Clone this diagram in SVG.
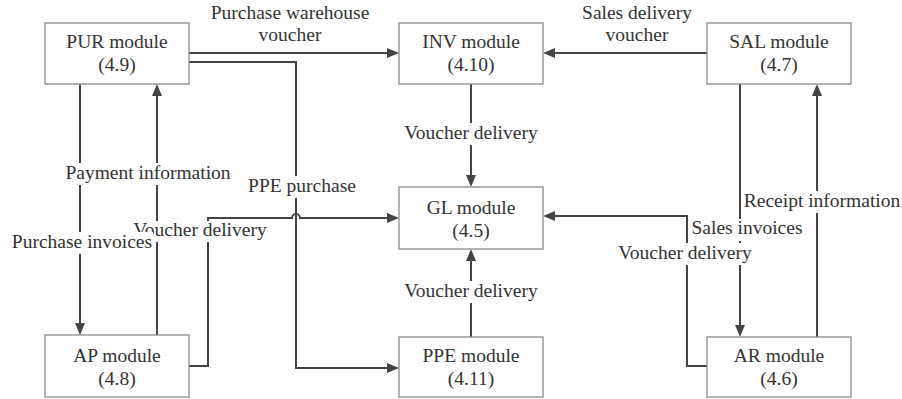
<svg xmlns="http://www.w3.org/2000/svg" width="902" height="399" viewBox="0 0 902 399">
<style>
.box{fill:#fff;stroke:#8a8a8a;stroke-width:1.3}
.t{font-family:"Liberation Serif",serif;font-size:19.5px;fill:#333;text-anchor:middle}
.c{fill:none;stroke:#444;stroke-width:2}
.bg{fill:#fff}
</style>
<defs>
<marker id="ah" viewBox="0 0 12 10" refX="2" refY="5" markerWidth="12" markerHeight="10" markerUnits="userSpaceOnUse" orient="auto">
<path d="M0,0 L12,5 L0,10 z" fill="#444"/>
</marker>
</defs>
<g id="connectors">
<path class="c" marker-end="url(#ah)" d="M189,53 H389"/>
<path class="c" marker-end="url(#ah)" d="M189,62 H296 V368 H389"/>
<path class="c" marker-end="url(#ah)" d="M707,53 H553"/>
<path class="c" marker-end="url(#ah)" d="M471,84 V177"/>
<path class="c" marker-end="url(#ah)" d="M471,337 V259"/>
<path class="c" marker-end="url(#ah)" d="M80,84 V325"/>
<path class="c" marker-end="url(#ah)" d="M157,335 V94"/>
<path class="c" marker-end="url(#ah)" d="M189,366 H208 V218 H292 A4,4 0 0 1 300,218 H389"/>
<path class="c" marker-end="url(#ah)" d="M740,84 V327"/>
<path class="c" marker-end="url(#ah)" d="M817,337 V94"/>
<path class="c" marker-end="url(#ah)" d="M707,366 H687 V216 H553"/>
</g>
<g id="labels">
<text class="t" x="290" y="19">Purchase warehouse</text>
<text class="t" x="290" y="41">voucher</text>
<text class="t" x="637" y="19">Sales delivery</text>
<text class="t" x="637" y="41">voucher</text>
<rect class="bg" x="401" y="123" width="140" height="22"/>
<text class="t" x="471" y="139">Voucher delivery</text>
<rect class="bg" x="401" y="281" width="140" height="22"/>
<text class="t" x="471" y="297">Voucher delivery</text>
<rect class="bg" x="64" y="163" width="168" height="22"/>
<text class="t" x="148" y="179">Payment information</text>
<rect class="bg" x="246" y="176" width="112" height="22"/>
<text class="t" x="302" y="192">PPE purchase</text>
<rect class="bg" x="130" y="221" width="140" height="21"/>
<text class="t" x="200" y="236">Voucher delivery</text>
<rect class="bg" x="11" y="232" width="142" height="22"/>
<text class="t" x="82" y="248">Purchase invoices</text>
<rect class="bg" x="743" y="191" width="158" height="22"/>
<text class="t" x="822" y="207">Receipt information</text>
<rect class="bg" x="690" y="219" width="114" height="22"/>
<text class="t" x="747" y="234">Sales invoices</text>
<rect class="bg" x="615" y="243" width="140" height="22"/>
<text class="t" x="685" y="259">Voucher delivery</text>
</g>
<g id="pur"><rect class="box" x="45" y="23" width="144" height="61"/><text class="t" x="117" y="48">PUR module</text><text class="t" x="117" y="71">(4.9)</text></g>
<g id="inv"><rect class="box" x="399" y="23" width="144" height="61"/><text class="t" x="471" y="48">INV module</text><text class="t" x="471" y="71">(4.10)</text></g>
<g id="sal"><rect class="box" x="707" y="23" width="144" height="61"/><text class="t" x="779" y="48">SAL module</text><text class="t" x="779" y="71">(4.7)</text></g>
<g id="gl"><rect class="box" x="399" y="187" width="144" height="62"/><text class="t" x="471" y="214">GL module</text><text class="t" x="471" y="237">(4.5)</text></g>
<g id="ap"><rect class="box" x="45" y="335" width="144" height="62"/><text class="t" x="117" y="362">AP module</text><text class="t" x="117" y="385">(4.8)</text></g>
<g id="ppe"><rect class="box" x="399" y="337" width="144" height="60"/><text class="t" x="471" y="362">PPE module</text><text class="t" x="471" y="385">(4.11)</text></g>
<g id="ar"><rect class="box" x="707" y="337" width="144" height="60"/><text class="t" x="779" y="362">AR module</text><text class="t" x="779" y="385">(4.6)</text></g>
</svg>
